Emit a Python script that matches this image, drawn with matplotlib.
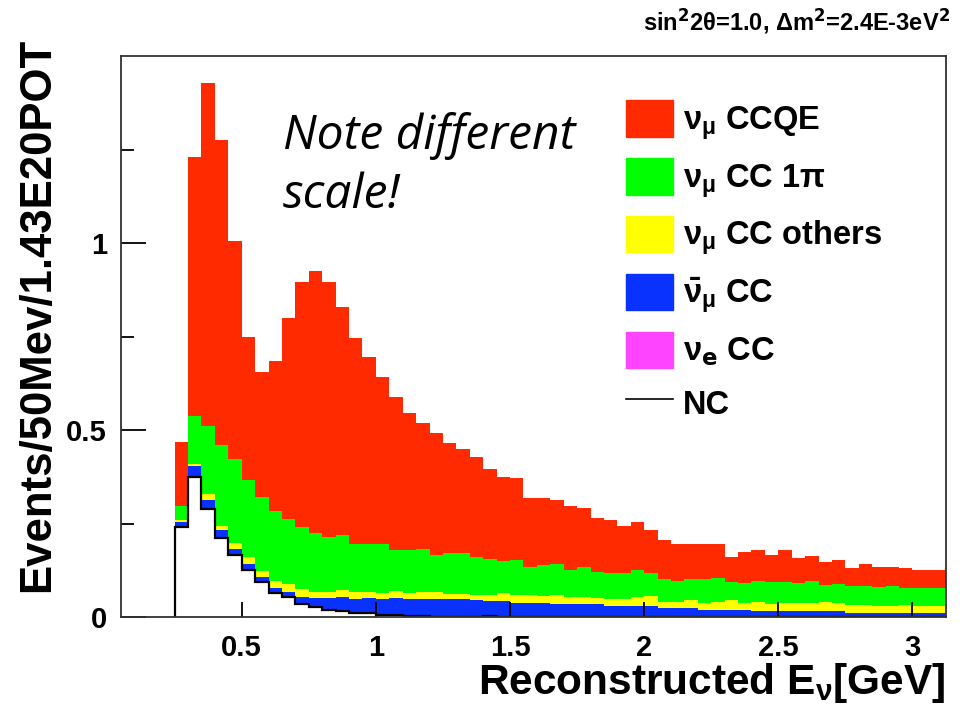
import numpy as np
import matplotlib
matplotlib.use("Agg")
import matplotlib.pyplot as plt
from matplotlib.patches import Patch
from matplotlib.lines import Line2D

plt.rcParams['font.family'] = ['Liberation Sans', 'DejaVu Sans']
plt.rcParams['mathtext.fontset'] = 'dejavusans'
plt.rcParams['mathtext.default'] = 'regular'

# 50 MeV bins from 0.25 GeV
edges = np.round(np.arange(0.25, 3.15 + 1e-9, 0.05), 3)

# stacked tops (each includes everything below it)
nc_top = [0.241, 0.375, 0.290, 0.210, 0.167, 0.127, 0.093, 0.063, 0.054, 0.034,
          0.028, 0.019, 0.017, 0.010, 0.010, 0.005, 0.005, 0.002, 0.002, 0.001,
          0.001, 0.001, 0.001, 0.004, 0, 0, 0, 0, 0, 0,
          0, 0, 0, 0, 0, 0, 0, 0, 0, 0,
          0, 0, 0, 0, 0, 0, 0, 0, 0, 0,
          0, 0, 0, 0, 0, 0, 0, 0]
nue_cc = [0.0] * 58   # not visible at this scale
numubar_top = [0.254, 0.403, 0.314, 0.232, 0.183, 0.141, 0.106, 0.077, 0.068, 0.054,
               0.050, 0.050, 0.053, 0.049, 0.050, 0.049, 0.052, 0.049, 0.049, 0.049,
               0.048, 0.048, 0.046, 0.043, 0.043, 0.038, 0.038, 0.038, 0.034, 0.034,
               0.034, 0.034, 0.029, 0.029, 0.029, 0.030, 0.025, 0.025, 0.025, 0.020,
               0.020, 0.020, 0.020, 0.016, 0.016, 0.016, 0.016, 0.016, 0.016, 0.016,
               0.012, 0.012, 0.012, 0.012, 0.012, 0.012, 0.012, 0.012]
others_top = [0.259, 0.410, 0.330, 0.244, 0.199, 0.161, 0.123, 0.096, 0.088, 0.075,
              0.066, 0.066, 0.072, 0.068, 0.066, 0.065, 0.069, 0.065, 0.068, 0.068,
              0.061, 0.061, 0.058, 0.059, 0.063, 0.059, 0.059, 0.056, 0.059, 0.054,
              0.054, 0.052, 0.047, 0.047, 0.054, 0.056, 0.041, 0.041, 0.045, 0.037,
              0.041, 0.045, 0.037, 0.041, 0.034, 0.037, 0.037, 0.038, 0.040, 0.038,
              0.031, 0.033, 0.030, 0.030, 0.031, 0.029, 0.030, 0.030]
cc1pi_top = [0.296, 0.537, 0.511, 0.460, 0.422, 0.367, 0.321, 0.283, 0.262, 0.240,
             0.225, 0.215, 0.219, 0.194, 0.194, 0.194, 0.179, 0.179, 0.182, 0.166,
             0.170, 0.170, 0.160, 0.156, 0.149, 0.152, 0.135, 0.140, 0.143, 0.127,
             0.134, 0.121, 0.118, 0.118, 0.127, 0.118, 0.101, 0.097, 0.101, 0.101,
             0.105, 0.093, 0.090, 0.096, 0.093, 0.093, 0.090, 0.096, 0.085, 0.088,
             0.083, 0.083, 0.081, 0.083, 0.077, 0.077, 0.077, 0.077]
ccqe_top = [0.468, 1.229, 1.428, 1.276, 1.006, 0.750, 0.655, 0.685, 0.800, 0.897,
            0.925, 0.896, 0.829, 0.747, 0.694, 0.642, 0.587, 0.545, 0.519, 0.491,
            0.464, 0.448, 0.427, 0.397, 0.375, 0.372, 0.317, 0.317, 0.313, 0.296,
            0.292, 0.266, 0.259, 0.243, 0.253, 0.232, 0.207, 0.194, 0.194, 0.194,
            0.194, 0.160, 0.173, 0.178, 0.165, 0.178, 0.159, 0.164, 0.148, 0.152,
            0.132, 0.143, 0.134, 0.134, 0.132, 0.127, 0.127, 0.127]

c_ccqe = '#ff2a00'
c_1pi = '#00ff00'
c_oth = '#ffff00'
c_bar = '#0a32ff'
c_nue = '#ff44ff'

nc = np.array(nc_top)
nue = nc + np.array(nue_cc)
layers = [(nue, np.array(numubar_top), c_bar),
          (np.array(numubar_top), np.array(others_top), c_oth),
          (np.array(others_top), np.array(cc1pi_top), c_1pi),
          (np.array(cc1pi_top), np.array(ccqe_top), c_ccqe)]

fig = plt.figure(figsize=(9.69, 7.09), dpi=100)
ax = fig.add_axes([121/969, 1-617/709, 825/969, 561/709])

ax.stairs(nue, edges, baseline=nc, fill=True, color=c_nue, lw=0)
for lo, hi, col in layers:
    ax.stairs(hi, edges, baseline=lo, fill=True, color=col, lw=0)
ax.stairs(nc, edges, baseline=0, fill=False, color='black', lw=1.6)

ax.set_xlim(0.05, 3.125)
ax.set_ylim(0, 1.5)
ax.set_xticks([0.5, 1, 1.5, 2, 2.5, 3], ['0.5', '1', '1.5', '2', '2.5', '3'])
ax.set_yticks([0, 0.5, 1], ['0', '0.5', '1'])
ax.set_yticks([0.25, 0.75, 1.25], minor=True)
ax.tick_params(axis='x', direction='in', length=11, width=1.3, pad=12,
               labelsize=21)
ax.tick_params(axis='y', which='major', direction='in', length=18, width=1.3,
               pad=10, labelsize=21)
ax.tick_params(axis='y', which='minor', direction='in', length=9, width=1.3)
for lab in ax.get_xticklabels() + ax.get_yticklabels():
    lab.set_fontweight('bold')
for sp in ax.spines.values():
    sp.set_linewidth(1.3)
    sp.set_color('#333333')

handles = [Patch(color=c_ccqe), Patch(color=c_1pi), Patch(color=c_oth),
           Patch(color=c_bar), Patch(color=c_nue),
           Line2D([], [], color='black', lw=1.2)]
labels = [r'$\nu_\mu$ CCQE', r'$\nu_\mu$ CC 1$\pi$', r'$\nu_\mu$ CC others',
          r'$\bar{\nu}_\mu$ CC', r'$\nu_\mathbf{e}$ CC', 'NC']
ax.legend(handles, labels, loc='upper left',
          bbox_to_anchor=(626/969, 1-100/709), bbox_transform=fig.transFigure,
          frameon=False, borderpad=0, borderaxespad=0,
          prop={'size': 23.5, 'weight': 'bold'},
          handlelength=1.45, handleheight=1.35, handletextpad=0.3,
          labelspacing=0.5)

ax.text(0.196, 0.9, 'Note different\nscale!', transform=ax.transAxes,
        fontsize=34.5, style='italic', family=['Open Sans', 'DejaVu Sans'],
        va='top', ha='left', linespacing=1.3)

fig.text(38/969, 1-38/709, 'Events/50Mev/1.43E20POT', rotation=90,
         ha='center', va='top', fontsize=31.5, fontweight='bold')
fig.text(945/969, 1-705/709, r'Reconstructed E$_\nu$[GeV]',
         ha='right', va='bottom', fontsize=30.5, fontweight='bold')
fig.text(950/969, 1-6/709,
         r'sin$^\mathbf{2}$2$\theta$=1.0, $\Delta$m$^\mathbf{2}$=2.4E-3eV$^\mathbf{2}$',
         ha='right', va='top', fontsize=17, fontweight='bold')

fig.savefig('out.png', dpi=100)
